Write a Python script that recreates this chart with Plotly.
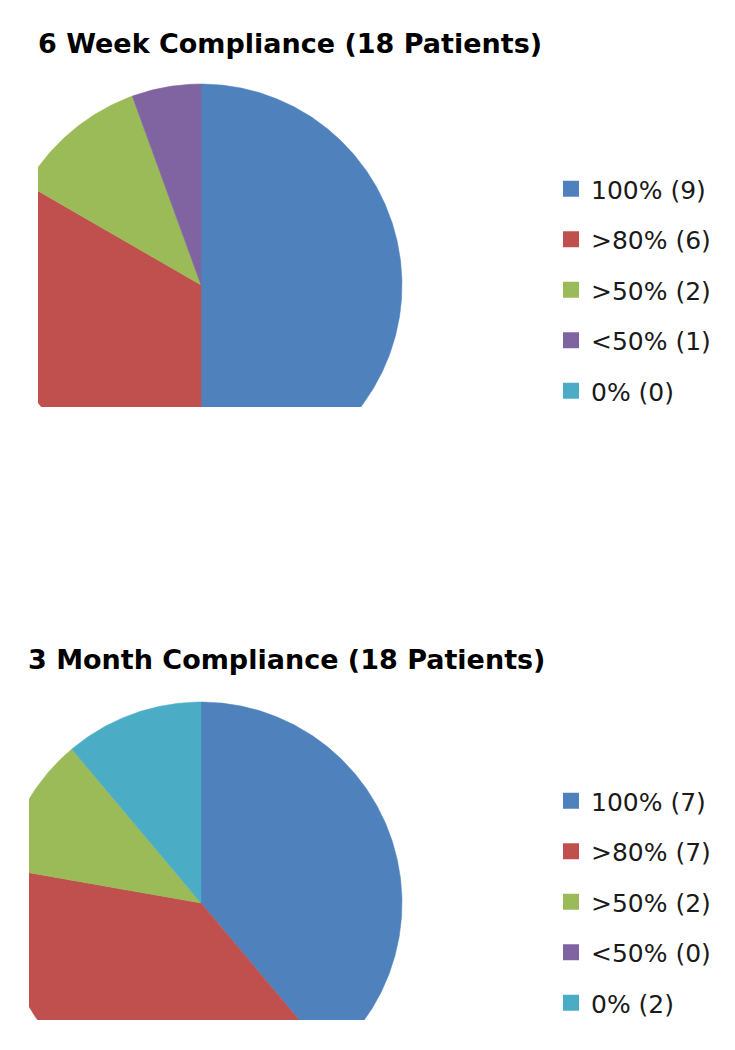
import numpy as np
import plotly.graph_objects as go

# ---- data ----
categories = ["100%", ">80%", ">50%", "<50%", "0%"]
week6_counts = [9, 6, 2, 1, 0]
month3_counts = [7, 7, 2, 0, 2]
titles = ["6 Week Compliance (18 Patients)", "3 Month Compliance (18 Patients)"]
colors = ["#4F81BD", "#C0504D", "#9BBB59", "#8064A2", "#4BACC6"]

W, H = 735, 1050
OFF = 8  # page body margin
FONT = "'DejaVu Sans', sans-serif"

fig = go.Figure()


def wedges(counts, xref, yref, legend):
    total = float(sum(counts))
    start = 0.0
    for i, (cat, v) in enumerate(zip(categories, counts)):
        frac = v / total
        if v > 0:
            a = np.linspace(start, start + frac, max(int(frac * 720), 4)) * 2 * np.pi
            xs = np.concatenate([[0], np.sin(a), [0]])
            ys = np.concatenate([[0], np.cos(a), [0]])
            fig.add_trace(go.Scatter(
                x=xs, y=ys, mode="lines", fill="toself",
                fillcolor=colors[i], line=dict(color=colors[i], width=0.5),
                xaxis=xref, yaxis=yref, showlegend=False, hoverinfo="skip"))
        start += frac
        fig.add_trace(go.Scatter(
            x=[None], y=[None], mode="markers",
            marker=dict(symbol="square", size=16, color=colors[i]),
            name=f"{cat} ({v})", legend=legend, legendgroup=f"{legend}{i}",
            xaxis=xref, yaxis=yref))


wedges(week6_counts, "x", "y", "legend")
wedges(month3_counts, "x2", "y2", "legend2")

R = 201.0  # pixel radius


def ax_geom(cx, cy, left, top, bottom):
    cx, cy, left, top, bottom = (v - OFF for v in (cx, cy, left, top, bottom))
    right = cx + R + 3
    xdom = [left / W, right / W]
    xr = [(left - cx) / R, (right - cx) / R]
    ydom = [1 - bottom / H, 1 - top / H]
    yr = [(cy - bottom) / R, (cy - top) / R]
    return xdom, xr, ydom, yr


ax_common = dict(visible=False, showgrid=False, zeroline=False, fixedrange=True)
xd, xr, yd, yr = ax_geom(201, 285, 38, 82, 407)
fig.update_layout(xaxis=dict(domain=xd, range=xr, **ax_common),
                  yaxis=dict(domain=yd, range=yr, **ax_common))
xd, xr, yd, yr = ax_geom(201, 903, 29, 700, 1020)
fig.update_layout(xaxis2=dict(domain=xd, range=xr, anchor="y2", **ax_common),
                  yaxis2=dict(domain=yd, range=yr, anchor="x2", **ax_common))

leg_common = dict(font=dict(family=FONT, size=25, color="#1a1a1a"),
                  traceorder="grouped", tracegroupgap=15,
                  xanchor="left", yanchor="top", bgcolor="rgba(0,0,0,0)",
                  itemclick=False, itemdoubleclick=False)
fig.update_layout(
    legend=dict(x=(551 - OFF) / W, y=1 - (166 - OFF) / H, **leg_common),
    legend2=dict(x=(551 - OFF) / W, y=1 - (778 - OFF) / H, **leg_common),
)

fig.add_annotation(text=f"<b>{titles[0]}</b>", xref="paper", yref="paper",
                   x=28 / W, y=1 - 36 / H, xanchor="left", yanchor="middle",
                   showarrow=False, font=dict(family=FONT, size=27, color="#000"))
fig.add_annotation(text=f"<b>{titles[1]}</b>", xref="paper", yref="paper",
                   x=18 / W, y=1 - 651 / H, xanchor="left", yanchor="middle",
                   showarrow=False, font=dict(family=FONT, size=27, color="#000"))

fig.update_layout(width=W, height=H, margin=dict(l=0, r=0, t=0, b=0),
                  paper_bgcolor="white", plot_bgcolor="white")

fig.write_html("out.html")
